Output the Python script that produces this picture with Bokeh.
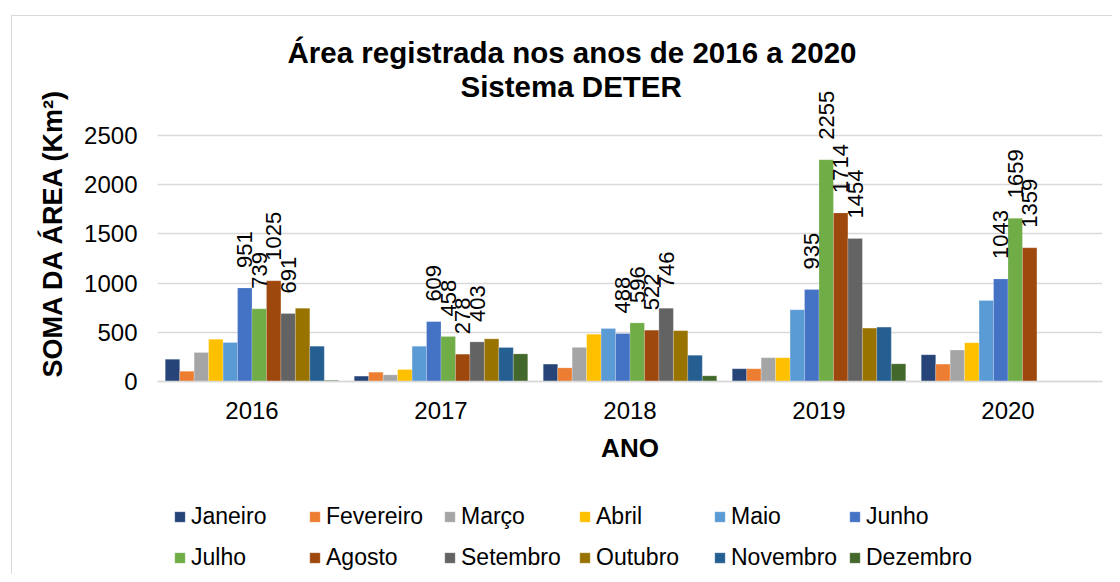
import math
from bokeh.plotting import figure
from bokeh.models import (ColumnDataSource, FactorRange, Range1d, FixedTicker,
                          Legend, LegendItem, LabelSet, Title)
from bokeh.transform import dodge
from bokeh.embed import file_html
from bokeh.resources import INLINE
from bokeh.core.properties import value

NaN = float("nan")

years = ["2016", "2017", "2018", "2019", "2020"]
months = ["Janeiro", "Fevereiro", "Março", "Abril", "Maio", "Junho",
          "Julho", "Agosto", "Setembro", "Outubro", "Novembro", "Dezembro"]

janeiro = [226, 55, 177, 130, 272]
fevereiro = [105, 95, 139, 130, 177]
marco = [296, 68, 347, 242, 320]
abril = [430, 122, 481, 242, 394]
maio = [397, 359, 539, 730, 824]
junho = [951, 609, 488, 935, 1043]
julho = [739, 458, 596, 2255, 1659]
agosto = [1025, 278, 522, 1714, 1359]
setembro = [691, 403, 746, 1454, NaN]
outubro = [745, 434, 517, 543, NaN]
novembro = [359, 346, 267, 553, NaN]
dezembro = [12, 281, 58, 180, NaN]

series = [janeiro, fevereiro, marco, abril, maio, junho,
          julho, agosto, setembro, outubro, novembro, dezembro]
colors = ["#264478", "#ED7D31", "#A5A5A5", "#FFC000", "#5B9BD5", "#4472C4",
          "#70AD47", "#9E480E", "#636363", "#997300", "#255E91", "#43682B"]
labeled_months = ["Junho", "Julho", "Agosto", "Setembro"]

y_ticks = [0, 500, 1000, 1500, 2000, 2500]

FONT = "Liberation Sans"
BAR_W = 0.0765
Y_TOP = 2978
Y_BOTTOM = -1961   # room under the zero line for category labels and legend

p = figure(x_range=FactorRange(*years, range_padding=0),
           y_range=Range1d(Y_BOTTOM, Y_TOP),
           width=1112, height=574,
           output_backend="svg", toolbar_location=None,
           min_border_left=157, min_border_right=10,
           min_border_top=88, min_border_bottom=0,
           background_fill_color=None, border_fill_color=None,
           outline_line_color=None)
p.styles = {"background": "linear-gradient(#d9d9d9,#d9d9d9) 11px 15px / 1px 100% no-repeat, "
                          "linear-gradient(#d9d9d9,#d9d9d9) 11px 15px / 100% 1px no-repeat, white"}

items = []
for i, (m, vals, c) in enumerate(zip(months, series, colors)):
    off = (i - 5.5) * BAR_W
    src = ColumnDataSource(dict(year=years, top=vals))
    r = p.vbar(x=dodge("year", off, range=p.x_range), top="top", width=BAR_W,
               source=src, fill_color=c, line_color="white", line_alpha=0.4,
               line_width=0.5)
    items.append(LegendItem(label=m, renderers=[r]))
    if m in labeled_months:
        ys, vs, ts = [], [], []
        for yv, v in zip(years, vals):
            if not math.isnan(v):
                ys.append(yv); vs.append(v); ts.append(str(int(v)))
        lsrc = ColumnDataSource(dict(year=ys, v=vs, t=ts))
        p.add_layout(LabelSet(x=dodge("year", off, range=p.x_range), y="v", text="t",
                              angle=math.pi / 2, text_align="left",
                              text_baseline="middle", y_offset=20,
                              text_font=value(FONT), text_font_size="22px",
                              text_color="black", source=lsrc))

# axes
p.yaxis.ticker = FixedTicker(ticks=y_ticks)
p.ygrid.ticker = FixedTicker(ticks=y_ticks)
p.ygrid.grid_line_color = "#d9d9d9"
p.ygrid.grid_line_width = 1.5
p.xgrid.grid_line_color = None

p.yaxis.axis_line_color = None
p.yaxis.major_tick_line_color = None
p.yaxis.minor_tick_line_color = None
p.yaxis.major_label_text_font = FONT
p.yaxis.major_label_text_font_size = "24px"
p.yaxis.major_label_text_color = "black"
p.yaxis.major_label_standoff = 14

# y-axis title, aligned to the 0..top part of the frame
ytitle = Title(text="SOMA DA ÁREA (Km²)", align="left", text_font=FONT,
               text_font_size="27px", text_font_style="bold", text_color="black",
               standoff=27, offset=197)
p.add_layout(ytitle, "left")

p.xaxis.fixed_location = 0
p.xaxis.axis_line_color = "#d9d9d9"
p.xaxis.axis_line_width = 1.5
p.xaxis.major_tick_line_color = None
p.xaxis.minor_tick_line_color = None
p.xaxis.major_label_text_font = FONT
p.xaxis.major_label_text_font_size = "24px"
p.xaxis.major_label_text_color = "black"
p.xaxis.major_label_standoff = 14
p.xaxis.axis_label = "ANO"
p.xaxis.axis_label_text_font = FONT
p.xaxis.axis_label_text_font_size = "26px"
p.xaxis.axis_label_text_font_style = "bold"
p.xaxis.axis_label_text_color = "black"
p.xaxis.axis_label_standoff = 11

# titles
t2 = Title(text="Sistema DETER", align="left", text_font=FONT,
           text_font_size="29.5px", text_font_style="bold", text_color="black",
           standoff=-29, offset=303)
t1 = Title(text="Área registrada nos anos de 2016 a 2020", align="left",
           text_font=FONT, text_font_size="29.5px", text_font_style="bold",
           text_color="black", standoff=27, offset=130)
p.add_layout(t2, "above")
p.add_layout(t1, "above")

legend = Legend(items=items, orientation="horizontal", nrows=2,
                location=(16, -4),
                label_text_font=FONT, label_text_font_size="23px",
                label_text_color="black",
                glyph_width=13, glyph_height=13, label_standoff=5,
                label_width=117, label_height=41, spacing=0,
                padding=0, margin=0, border_line_color=None,
                background_fill_alpha=0)
p.add_layout(legend, "center")

open("out.html", "w").write(file_html(p, INLINE))
